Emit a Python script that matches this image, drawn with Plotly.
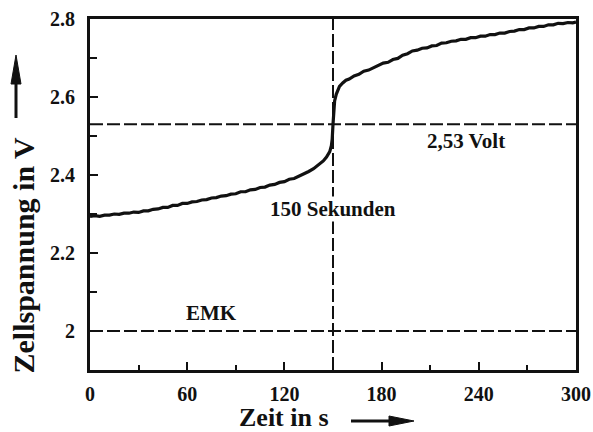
import plotly.graph_objects as go

# ---- data ----
time_s = [0, 3, 6, 9, 12, 15, 18, 21, 24, 27, 30, 33, 36, 39, 42, 45, 48, 51, 54, 57,
          60, 63, 66, 69, 72, 75, 78, 81, 84, 87, 90, 93, 96, 99, 102, 105, 108, 111, 114, 117,
          120, 123, 126, 129, 132, 135, 138, 141, 144, 146, 147, 148, 149, 149.5, 150, 150.5,
          151, 152, 153, 154, 156, 158, 160, 163, 166, 169, 172, 175, 178, 181, 184, 187, 190,
          193, 196, 199, 202, 205, 208, 211, 214, 217, 220, 223, 226, 229, 232, 235, 238, 241,
          244, 247, 250, 253, 256, 259, 262, 265, 268, 271, 274, 277, 280, 283, 286, 289, 292,
          295, 298, 300]
voltage = [2.294, 2.296, 2.294, 2.297, 2.297, 2.300, 2.299, 2.302, 2.302, 2.305, 2.304, 2.308, 2.308,
           2.312, 2.313, 2.317, 2.317, 2.322, 2.322, 2.327, 2.327, 2.331, 2.332, 2.336, 2.337,
           2.341, 2.342, 2.346, 2.347, 2.351, 2.352, 2.357, 2.357, 2.362, 2.363, 2.368, 2.369,
           2.374, 2.376, 2.381, 2.383, 2.389, 2.391, 2.397, 2.401, 2.409, 2.416, 2.426, 2.436,
           2.446, 2.452, 2.460, 2.475, 2.492, 2.530, 2.565, 2.590, 2.607, 2.619, 2.627, 2.636,
           2.643, 2.646, 2.654, 2.658, 2.666, 2.669, 2.675, 2.680, 2.687, 2.689, 2.696, 2.699,
           2.707, 2.711, 2.718, 2.720, 2.725, 2.726, 2.731, 2.732, 2.738, 2.739, 2.743, 2.744,
           2.748, 2.748, 2.752, 2.752, 2.756, 2.756, 2.760, 2.760, 2.764, 2.764, 2.768, 2.769,
           2.773, 2.773, 2.777, 2.777, 2.781, 2.781, 2.785, 2.785, 2.789, 2.788, 2.791, 2.790,
           2.792]

x_ticks = [0, 60, 120, 180, 240, 300]
y_ticks = [2.0, 2.2, 2.4, 2.6, 2.8]
y_ticktext = ["2", "2.2", "2.4", "2.6", "2.8"]

equivalence_time = 150        # vertical dashed line
ref_voltages = [2.0, 2.53]    # EMK and equivalence voltage

labels = [
    dict(text="150 Sekunden", x=150, y=2.314),
    dict(text="2,53 Volt", x=232, y=2.487),
    dict(text="EMK", x=75, y=2.045),
]

# ---- figure ----
W, H = 593, 432
PL, PR, PT, PB = 90, 576, 19, 370          # plot area in window pixels
L, T = PL, PT
R, B = W - PR, H - PB
PW, PH = PR - PL, PB - PT


def px(xp):
    return (xp - PL) / PW


def py(yp):
    return (PB - yp) / PH


FONT = "Liberation Serif, Times New Roman, serif"
INK = "#111111"

fig = go.Figure()
fig.add_trace(go.Scatter(x=time_s, y=voltage, mode="lines",
                         line=dict(color=INK, width=3.2), hoverinfo="skip",
                         showlegend=False))

dash = "13px,4px"
fig.add_shape(type="line", x0=equivalence_time, x1=equivalence_time, y0=0, y1=1,
              xref="x", yref="paper", line=dict(color=INK, width=2, dash=dash), layer="below")
for v in ref_voltages:
    fig.add_shape(type="line", x0=0, x1=1, y0=v, y1=v, xref="paper", yref="y",
                  line=dict(color=INK, width=2, dash=dash), layer="below")

for lab in labels:
    fig.add_annotation(text=lab["text"], x=lab["x"], y=lab["y"], xref="x", yref="y",
                       showarrow=False, bgcolor="white", borderpad=0,
                       font=dict(family=FONT, size=21, color=INK, weight="bold"))

# axis titles (as annotations) with arrows
fig.add_annotation(text="Zellspannung in V", x=px(23), y=py(255.5), xref="paper", yref="paper",
                   textangle=-90, showarrow=False, xanchor="center", yanchor="middle",
                   font=dict(family=FONT, size=30, color=INK, weight="bold"))
fig.add_annotation(text="Zeit in s", x=px(283.5), y=py(417), xref="paper", yref="paper",
                   showarrow=False, xanchor="center", yanchor="middle",
                   font=dict(family=FONT, size=26, color=INK, weight="bold"))

# y arrow
fig.add_shape(type="line", x0=px(16), x1=px(16), y0=py(118), y1=py(80), xref="paper", yref="paper",
              line=dict(color=INK, width=3))
fig.add_shape(type="path", xref="paper", yref="paper",
              path=f"M {px(16)} {py(55)} L {px(11)} {py(84)} L {px(21)} {py(84)} Z",
              fillcolor=INK, line=dict(color=INK, width=1))
# x arrow
fig.add_shape(type="line", x0=px(351), x1=px(392), y0=py(421), y1=py(421), xref="paper", yref="paper",
              line=dict(color=INK, width=3))
fig.add_shape(type="path", xref="paper", yref="paper",
              path=f"M {px(414)} {py(421)} L {px(389)} {py(416)} L {px(389)} {py(426)} Z",
              fillcolor=INK, line=dict(color=INK, width=1))

axis_common = dict(showgrid=False, zeroline=False, showline=True, mirror=True,
                   linecolor=INK, linewidth=3, ticks="inside", ticklen=8, tickwidth=1.5,
                   tickcolor=INK, automargin=False)

fig.update_xaxes(range=[0, 300], tickmode="array", tickvals=x_ticks,
                 minor=dict(ticks="inside", ticklen=5, tickwidth=1.5, tickcolor=INK,
                            tick0=0, dtick=30),
                 tickfont=dict(family=FONT, size=20, color=INK, weight="bold"),
                 ticklabelstandoff=4, **axis_common)
fig.update_yaxes(range=[1.9, 2.8], tickmode="array", tickvals=y_ticks, ticktext=y_ticktext,
                 minor=dict(ticks="inside", ticklen=7, tickwidth=1.5, tickcolor=INK,
                            tick0=1.9, dtick=0.1),
                 tickfont=dict(family=FONT, size=20, color=INK, weight="bold"),
                 ticklabelstandoff=8, **axis_common)

fig.update_layout(width=W, height=H, autosize=False,
                  margin=dict(l=L, r=R, t=T, b=B, pad=0),
                  paper_bgcolor="white", plot_bgcolor="white", showlegend=False)

# remove the default 8px page margin so the figure sits at the window's corner
fig.write_html("out.html", config={"displayModeBar": False},
               post_script="document.body.style.margin='0';")
